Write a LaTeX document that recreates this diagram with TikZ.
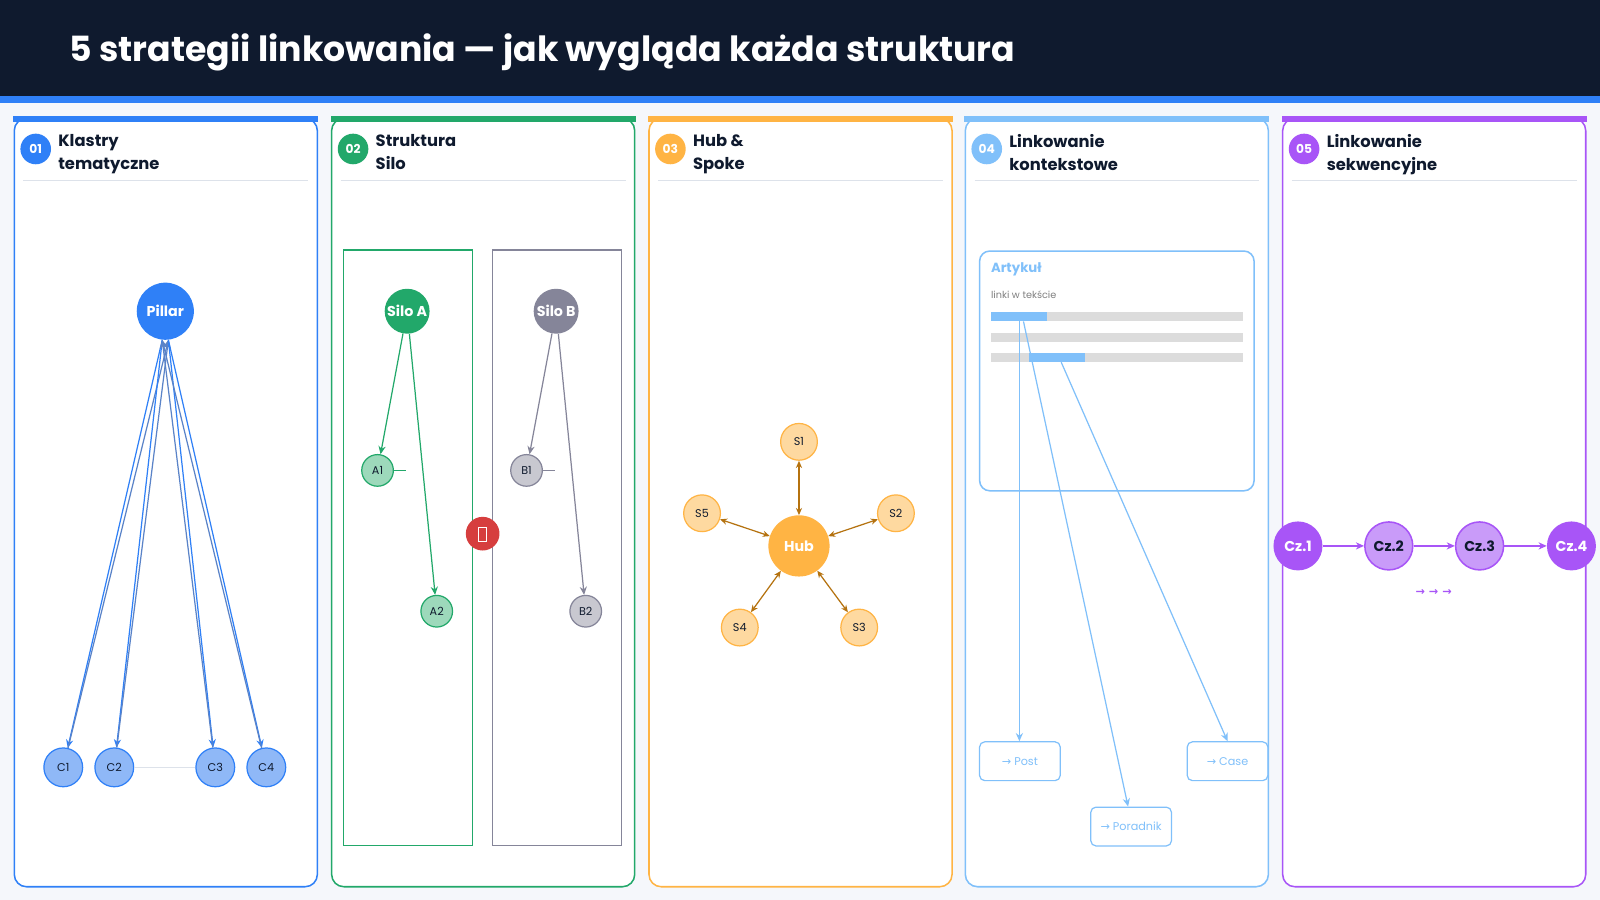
\documentclass[tikz,border=0pt]{standalone}
\usepackage{fontspec}
\setmainfont{Poppins}
\newfontfamily\symfont{DejaVu Sans}
\usetikzlibrary{arrows.meta, positioning}

\definecolor{navy}{HTML}{0F1A2E}
\definecolor{paper}{HTML}{F5F7FB}
\definecolor{rule}{HTML}{DDE2EA}
\definecolor{cblue}{HTML}{2F80F7}
\definecolor{lblue}{HTML}{8FB8F7}
\definecolor{cgreen}{HTML}{22A86A}
\definecolor{lgreen}{HTML}{9DD9BB}
\definecolor{cgray}{HTML}{858599}
\definecolor{lgray}{HTML}{C8C8D0}
\definecolor{corange}{HTML}{FFB444}
\definecolor{lorange}{HTML}{FED9A0}
\definecolor{darrow}{HTML}{B5720F}
\definecolor{csky}{HTML}{80C0FA}
\definecolor{cpurple}{HTML}{A855F7}
\definecolor{lpurple}{HTML}{C99BF9}
\definecolor{cred}{HTML}{D63E3E}
\definecolor{bar}{HTML}{DCDCDC}

\begin{document}
\begin{tikzpicture}[
    x=1pt, y=-1pt,
    panel/.style={draw=#1, line width=1.5pt, fill=white, rounded corners=12pt},
    badge/.style={circle, fill=#1, minimum size=30pt, inner sep=0pt,
        text=white, font=\fontsize{12}{12}\selectfont\bfseries},
    ptitle/.style={anchor=north west, align=left, text=navy,
        font=\fontsize{16}{22}\selectfont\bfseries, inner sep=0pt},
    big/.style={circle, fill=#1, minimum size=56pt, inner sep=0pt,
        text=white, font=\fontsize{14}{14}\selectfont\bfseries},
    small/.style={circle, draw=#1, line width=1.2pt, minimum size=36pt,
        inner sep=0pt, text=navy, font=\fontsize{11}{11}\selectfont},
    link/.style={-{Stealth[length=8pt,width=7pt]}, line width=1.2pt},
    leaf/.style={draw=csky, line width=1.2pt, rounded corners=5pt,
        minimum width=79pt, minimum height=38pt, text=csky,
        font=\fontsize{11}{11}\selectfont},
]
    % background and header
    \useasboundingbox (0,0) rectangle (1568,882);
    \clip (0,0) rectangle (1568,882);
    \fill[paper] (0,0) rectangle (1568,882);
    \fill[navy] (0,0) rectangle (1568,94);
    \fill[cblue] (0,94) rectangle (1568,101);
    \node[anchor=west, text=white, font=\fontsize{34}{34}\selectfont\bfseries, inner sep=0pt]
        (title) at (68,51) {5 strategii linkowania — jak wygląda każda struktura};

    % panels
    \foreach \x/\c/\n/\t in {14/cblue/01/{Klastry\\tematyczne},
                             325/cgreen/02/{Struktura\\Silo},
                             636/corange/03/{Hub \&\\Spoke},
                             946/csky/04/{Linkowanie\\kontekstowe},
                             1257/cpurple/05/{Linkowanie\\sekwencyjne}} {
        \draw[panel=\c] (\x,116) rectangle ++(297,753);
        \fill[\c] (\x-1,114) rectangle ++(299,6);
        \node[badge=\c] at (\x+21,146) {\n};
        \node[ptitle] at (\x+43,132) {\t};
        \draw[rule, line width=1pt] (\x+9,177) -- ++(279,0);
    }

    % 01 klastry
    \node[big=cblue] (pillar) at (162,305) {Pillar};
    \foreach \n/\x in {1/62, 2/112, 3/211, 4/261}
        \node[small=cblue, fill=lblue, minimum size=38pt] (c\n) at (\x,752) {C\n};
    \draw[rule, line width=1pt] (c2) -- (c3);
    \foreach \n/\s in {1/-3, 2/-3, 3/3, 4/3} {
        \draw[link, cblue] ([xshift=\s pt]pillar.south) -- (c\n);
        \draw[link, cblue!50!cgray] (c\n) -- ([xshift=-\s pt]pillar.south);
    }

    % 02 silo
    \draw[cgreen, line width=1pt] (337,245) rectangle (463,829);
    \draw[cgray, line width=1pt] (483,245) rectangle (609,829);
    \node[big=cgreen, minimum size=44pt] (siloA) at (399,305) {Silo A};
    \node[small=cgreen, fill=lgreen, minimum size=31pt] (a1) at (370,461) {A1};
    \node[small=cgreen, fill=lgreen, minimum size=31pt] (a2) at (428,599) {A2};
    \node[big=cgray, minimum size=44pt] (siloB) at (545,305) {Silo B};
    \node[small=cgray, fill=lgray, minimum size=31pt] (b1) at (516,461) {B1};
    \node[small=cgray, fill=lgray, minimum size=31pt] (b2) at (574,599) {B2};
    \draw[link, cgreen] (siloA) -- (a1);
    \draw[link, cgreen] (siloA) -- (a2);
    \draw[link, cgray] (siloB) -- (b1);
    \draw[link, cgray] (siloB) -- (b2);
    \draw[cgreen, line width=0.8pt] (a1) -- ++(28,0);
    \draw[cgray, line width=0.8pt] (b1) -- ++(28,0);
    \node[circle, fill=cred, minimum size=33pt, inner sep=0pt] (block) at (473,523) {};
    \draw[white, line width=0.8pt] (469,517) rectangle (477,531);

    % 03 hub & spoke
    \node[big=corange, minimum size=60pt] (hub) at (783,535) {Hub};
    \foreach \n/\x/\y in {1/783/433, 2/878/503, 3/842/615, 4/725/615, 5/688/503} {
        \node[small=corange, fill=lorange] (s\n) at (\x,\y) {S\n};
        \draw[{Stealth[length=7pt,width=6pt]}-{Stealth[length=7pt,width=6pt]},
              darrow, line width=1.2pt] (hub) -- (s\n);
    }

    % 04 kontekstowe
    \draw[csky, line width=1.5pt, rounded corners=10pt] (960,246) rectangle (1229,481);
    \node[anchor=west, text=csky, font=\fontsize{13}{13}\selectfont\bfseries, inner sep=0pt]
        (art) at (971,264) {Artykuł};
    \node[anchor=west, text=gray, font=\fontsize{9.5}{10}\selectfont, inner sep=0pt]
        (sub) at (971,289) {linki w tekście};
    \foreach \y in {306, 326, 346}
        \fill[bar] (971,\y) rectangle (1218,\y+9);
    \fill[csky] (971,306) rectangle (1026,315);
    \fill[csky] (1008,346) rectangle (1063,355);
    \coordinate (l1) at (999,315);
    \coordinate (l2) at (1003,315);
    \coordinate (l3) at (1040,355);
    \node[leaf] (post) at (999.5,746) {{\symfont→} Post};
    \node[leaf] (poradnik) at (1108.5,810) {{\symfont→} Poradnik};
    \node[leaf] (case) at (1203,746) {{\symfont→} Case};
    \draw[link, csky] (l1) -- (post.north -| l1);
    \draw[link, csky] (l2) -- ([xshift=-3pt]poradnik.north);
    \draw[link, csky] (l3) -- (case.north);

    % 05 sekwencyjne
    \node[big=cpurple, minimum size=48pt] (cz1) at (1272,535) {Cz.1};
    \node[big=lpurple, draw=cpurple, line width=1.5pt, minimum size=47pt, text=navy] (cz2) at (1361,535) {Cz.2};
    \node[big=lpurple, draw=cpurple, line width=1.5pt, minimum size=47pt, text=navy] (cz3) at (1450,535) {Cz.3};
    \node[big=cpurple, minimum size=48pt] (cz4) at (1540,535) {Cz.4};
    \foreach \a/\b in {cz1/cz2, cz2/cz3, cz3/cz4}
        \draw[link, cpurple, line width=2.5pt] (\a) -- (\b);
    \node[text=cpurple, font=\symfont\fontsize{11}{11}\selectfont\bfseries] (more) at (1405,581) {→ → →};
\end{tikzpicture}
\end{document}
